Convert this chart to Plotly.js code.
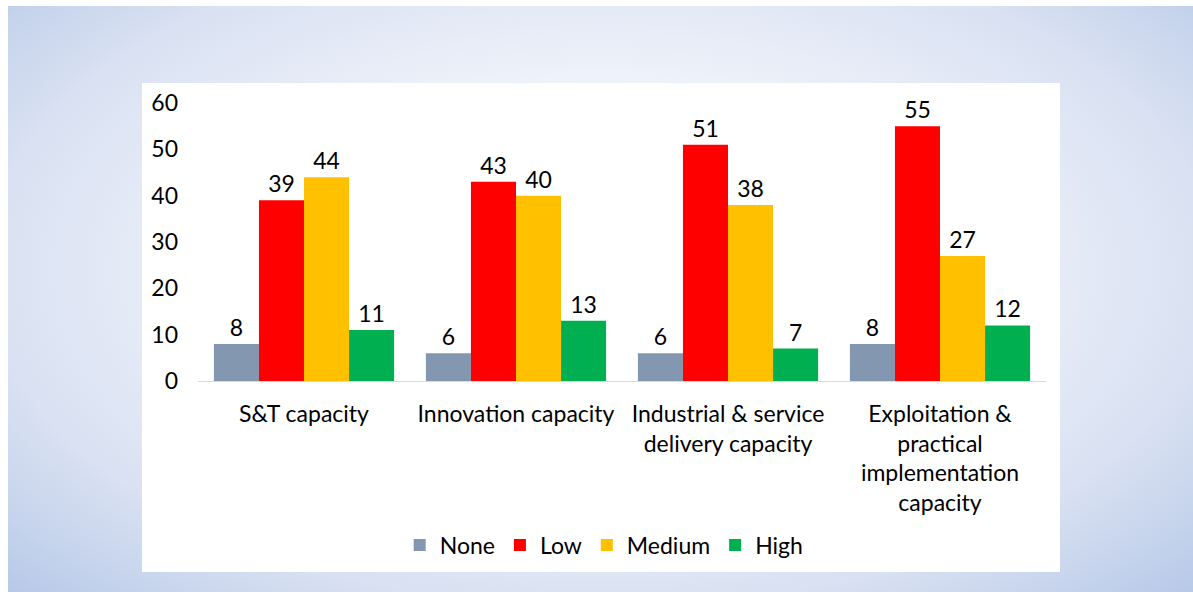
<!DOCTYPE html>
<html>
<head>
<meta charset="utf-8">
<script src="https://cdn.plot.ly/plotly-3.0.1.min.js"></script>
<style>
  html, body { margin: 0; padding: 0; background: #ffffff; width: 1193px; height: 592px; overflow: hidden; }
  #bg { position: absolute; left: 8px; top: 6px; width: 1185px; height: 586px;
        background: radial-gradient(ellipse 72% 80% at 50% 45%, #ffffff 0%, #f2f5fb 35%, #d9e1f2 72%, #b4c7e7 100%); }
  #box { position: absolute; left: 142px; top: 83px; width: 918px; height: 489px; background: #ffffff; }
  #chart { position: absolute; left: 0; top: 0; width: 1193px; height: 592px; }
</style>
</head>
<body>
<div id="bg"></div>
<div id="box"></div>
<div id="chart"></div>
<script>
const categories = [
  "S&T capacity",
  "Innovation capacity",
  "Industrial & service<br>delivery capacity",
  "Exploitation &<br>practical<br>implementation<br>capacity"
];
const seriesNames = ["None", "Low", "Medium", "High"];
const noneValues = [8, 6, 6, 8];
const lowValues = [39, 43, 51, 55];
const mediumValues = [44, 40, 38, 27];
const highValues = [11, 13, 7, 12];
const seriesColors = ["#8497b0", "#ff0000", "#ffc000", "#00b050"];
const yTicks = [0, 10, 20, 30, 40, 50, 60];

const allValues = [noneValues, lowValues, mediumValues, highValues];
const font = "Lato, 'Open Sans', sans-serif";
const fs = 23;

const traces = allValues.map((vals, i) => ({
  type: "bar",
  name: seriesNames[i],
  x: categories,
  y: vals,
  marker: { color: seriesColors[i], line: { width: 0 } },
  text: vals.map(String),
  textposition: "outside",
  cliponaxis: false,
  textfont: { family: font, size: fs, color: "#000000" },
  hoverinfo: "x+y+name"
}));

const layout = {
  width: 1193,
  height: 592,
  margin: { l: 198, r: 147, t: 103, b: 211 },
  paper_bgcolor: "rgba(0,0,0,0)",
  plot_bgcolor: "rgba(0,0,0,0)",
  barmode: "group",
  bargap: 0.15,
  bargroupgap: 0,
  font: { family: font, size: fs, color: "#000000" },
  xaxis: {
    type: "category",
    showline: true,
    linecolor: "#d9d9d9",
    linewidth: 1,
    ticks: "",
    showgrid: false,
    zeroline: false,
    tickangle: 0,
    tickfont: { family: font, size: fs, color: "#000000" },
    ticklabelstandoff: 12
  },
  yaxis: {
    range: [0, 60],
    tickvals: yTicks,
    ticktext: yTicks.map(String),
    showgrid: false,
    zeroline: false,
    showline: false,
    ticks: "",
    tickfont: { family: font, size: fs, color: "#000000" },
    ticklabelstandoff: 19
  },
  showlegend: true,
  legend: {
    orientation: "h",
    x: 0.479,
    xanchor: "center",
    y: -0.59,
    yanchor: "middle",
    font: { family: font, size: fs, color: "#000000" },
    bgcolor: "rgba(0,0,0,0)",
    itemwidth: 30,
    traceorder: "normal"
  }
};

Plotly.newPlot("chart", traces, layout, { displayModeBar: false, staticPlot: true });
</script>
</body>
</html>
